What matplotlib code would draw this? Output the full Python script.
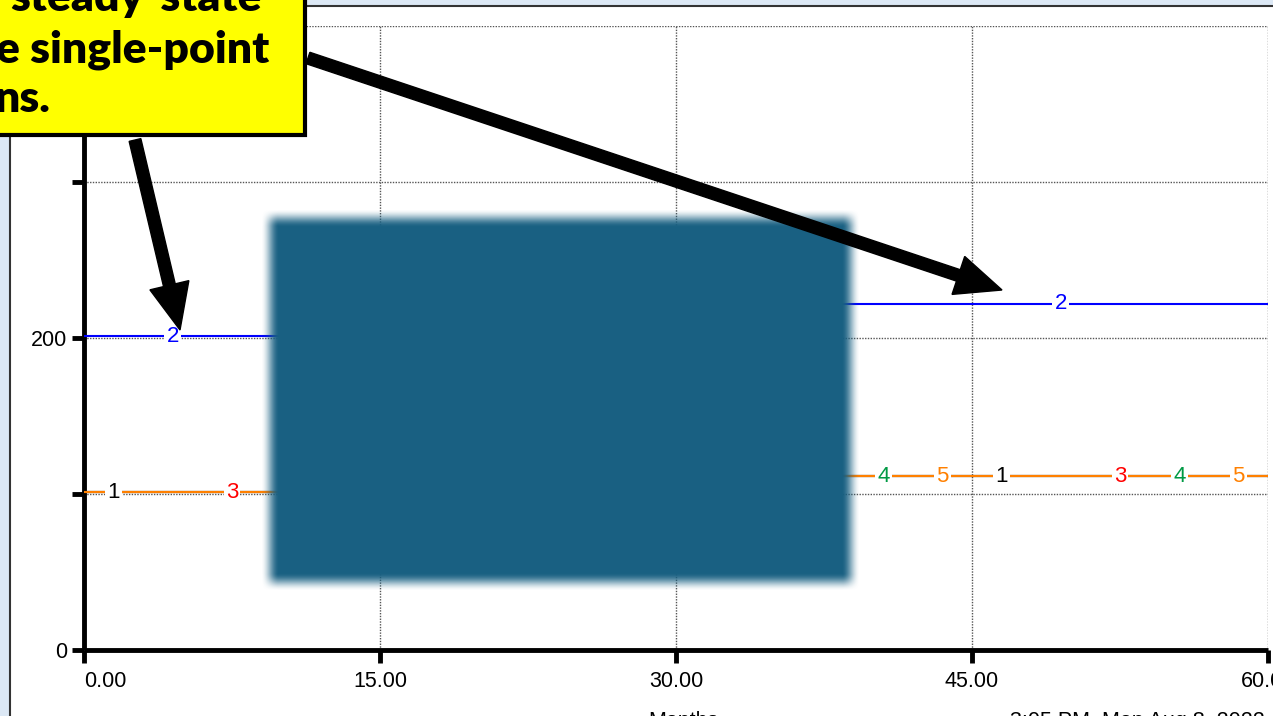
import numpy as np
import matplotlib
matplotlib.use("Agg")
import matplotlib.pyplot as plt
from matplotlib.patches import Rectangle, FancyArrow

# data
t = [0, 24, 60]
val_2 = [201, 222, 222]              # blue series "2"
val_low = [101, 111.5, 111.5]        # series 1, 3, 4, 5 sit on top of each other
series = [("1", "black", val_low), ("2", "#0000ff", val_2), ("3", "#ff0000", val_low),
          ("4", "#009944", val_low), ("5", "#ff8000", val_low)]
label_offsets = [1.5, 4.5, 7.5, 10.5, 13.5]
xticks = [0, 15, 30, 45, 60]
xticklabels = ["0.00", "15.00", "30.00", "45.00", "60.00"]
yticks = [0, 100, 200, 300, 400]
yticklabels = ["0", "", "200", "", ""]

narrow = ["Liberation Sans Narrow", "Liberation Sans", "DejaVu Sans"]

W, H = 1273, 716
fig = plt.figure(figsize=(W / 100, H / 100), dpi=100)
fig.patch.set_facecolor("#dce8f5")

# background panel (pixel coords)
bg = fig.add_axes([0, 0, 1, 1], zorder=-1)
bg.set_xlim(0, W); bg.set_ylim(H, 0); bg.axis("off")
bg.add_patch(Rectangle((10, 6), W + 20, H + 20, facecolor="white", edgecolor="#333333", lw=1.5))

# main chart
ax = fig.add_axes([84 / W, 1 - 650 / H, (1268 - 84) / W, (650 - 26) / H], zorder=1)
ax.patch.set_alpha(0)
ax.set_xlim(0, 60)
ax.set_ylim(0, 400)
for s in ["top", "right"]:
    ax.spines[s].set_visible(False)
for s in ["left", "bottom"]:
    ax.spines[s].set_linewidth(3.5)
    ax.spines[s].set_capstyle("butt")
ax.set_xticks(xticks)
ax.set_xticklabels(xticklabels, family=narrow, fontsize=15.5)
ax.set_yticks(yticks)
ax.set_yticklabels(yticklabels, family=narrow, fontsize=15.5)
ax.get_xticklabels()[0].set_horizontalalignment("left")
ax.tick_params(axis="both", length=9, width=3.5, direction="out", color="black")
ax.tick_params(axis="x", pad=6)
ax.tick_params(axis="y", pad=3)
ax.grid(True, color="#555555", linestyle=(0, (1, 1)), linewidth=1.0)
ax.set_axisbelow(True)

for name, col, v in series:
    ax.step(t, v, where="post", color=col, lw=1.5, zorder=3)
for (name, col, v), off in zip(series, label_offsets):
    for k in range(4):
        tx = off + 15 * k
        if tx > 60:
            continue
        vy = v[0] if tx < t[1] else v[1]
        ax.text(tx, vy, name, color=col, fontsize=16, ha="center", va="center",
                family=["Liberation Sans", "DejaVu Sans"], zorder=4,
                bbox=dict(boxstyle="square,pad=0.1", fc="white", ec="none"))

# bottom texts, mostly cut off by the edge
fig.text(648 / W, 1 - 711 / H, "Months", family=narrow, fontsize=15.5, ha="left", va="top")
fig.text(1010 / W, 1 - 711 / H, "3:05 PM  Mon Aug 8, 2022", family=narrow, fontsize=15.5,
         ha="left", va="top")

# overlay: blurred redaction box, arrows, callout
ov = fig.add_axes([0, 0, 1, 1], zorder=2)
ov.set_xlim(0, W); ov.set_ylim(H, 0); ov.axis("off")

x0, x1, y0, y1 = 270, 851, 218, 582
ramp = 9.0
xs = np.arange(x0 - 20, x1 + 20) + 0.5
ys = np.arange(y0 - 20, y1 + 20) + 0.5
def edge(a, lo, hi):
    d = np.minimum(a - lo, hi - a)
    s = np.clip(0.5 + d / (2 * ramp), 0, 1)
    return s * s * (3 - 2 * s)
alpha = np.outer(edge(ys, y0, y1), edge(xs, x0, x1))
img = np.zeros((len(ys), len(xs), 4))
img[..., 0] = 0x19 / 255; img[..., 1] = 0x60 / 255; img[..., 2] = 0x82 / 255
img[..., 3] = alpha
ov.imshow(img, extent=(xs[0] - 0.5, xs[-1] + 0.5, ys[-1] + 0.5, ys[0] - 0.5),
          interpolation="bilinear", zorder=1)
ov.set_xlim(0, W); ov.set_ylim(H, 0)

ov.add_patch(FancyArrow(135, 140, 45, 190, width=12, head_width=40, head_length=46,
                        length_includes_head=True, color="black", zorder=2))
ov.add_patch(FancyArrow(308, 58, 694, 232, width=12, head_width=40, head_length=46,
                        length_includes_head=True, color="black", zorder=2))

ov.add_patch(Rectangle((-20, -20), 325, 155, facecolor="#ffff00", edgecolor="black",
                       lw=3, zorder=3))
tkw = dict(fontsize=32, fontweight="heavy", family=["Lato", "DejaVu Sans"], color="black",
           ha="left", va="baseline", zorder=4)
ov.text(10, 11, "steady-state", **tkw)
ov.text(-4, 63, "e single-point", **tkw)
ov.text(-5, 112, "ns.", **tkw)

fig.savefig("out.png", dpi=100)
